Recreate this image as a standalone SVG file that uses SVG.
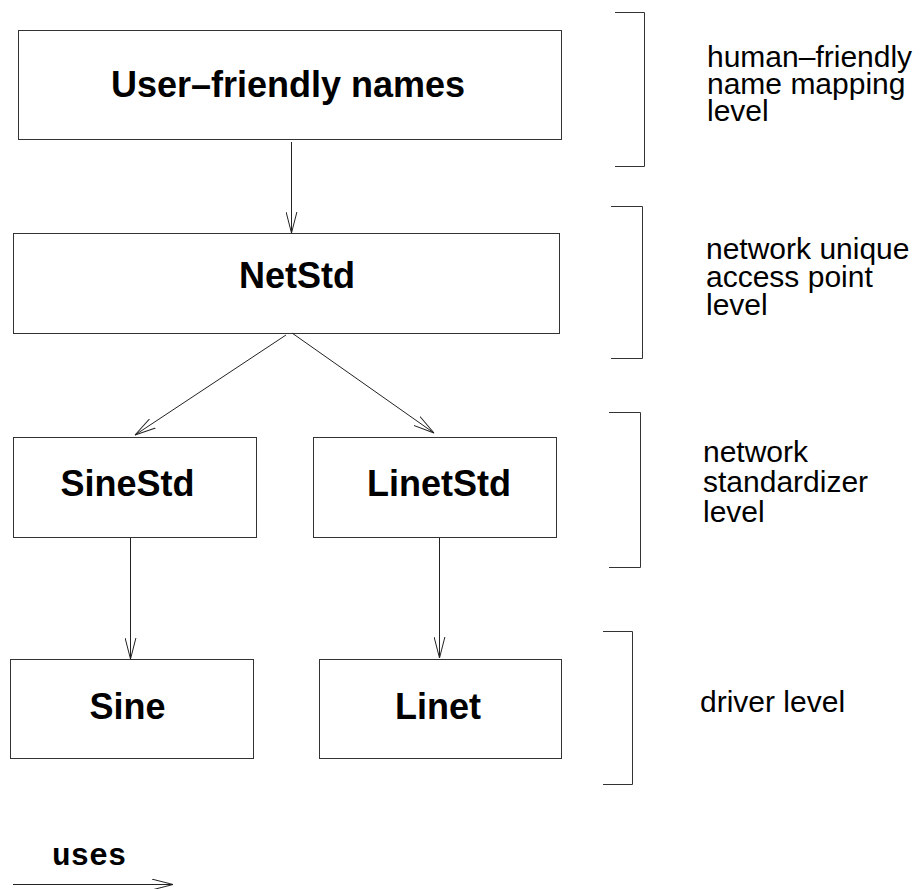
<svg xmlns="http://www.w3.org/2000/svg" width="923" height="889" viewBox="0 0 923 889">
  <style>
    .box { fill: #fff; stroke: #333; stroke-width: 1; }
    .name { font-family: "Liberation Sans", Arial, Helvetica, sans-serif; font-weight: bold; font-size: 36px; fill: #000; text-anchor: middle; }
    .lvl { font-family: "Liberation Sans", Arial, Helvetica, sans-serif; font-size: 30px; fill: #000; }
    .edge { stroke: #222; stroke-width: 1; fill: none; }
    .brk { stroke: #333; stroke-width: 1; fill: none; }
    .legend { font-family: "Nimbus Mono PS", "Courier New", Courier, "Liberation Mono", monospace; font-weight: bold; font-size: 31px; fill: #000; }
  </style>
  <defs>
    <!-- open V arrowhead used by every "uses" connector -->
    <marker id="vee" viewBox="0 0 22 12" refX="21" refY="6" markerWidth="22" markerHeight="12" markerUnits="userSpaceOnUse" orient="auto">
      <path d="M0,0.6 L21,6 L0,11.4" fill="none" stroke="#222" stroke-width="1"/>
    </marker>
  </defs>

  <rect width="923" height="889" fill="#fff"/>

  <!-- component boxes -->
  <g id="user-friendly-names">
    <rect class="box" x="18.5" y="30.5" width="543" height="109"/>
    <text class="name" x="288" y="97">User–friendly names</text>
  </g>
  <g id="netstd">
    <rect class="box" x="13.5" y="233.5" width="546" height="100"/>
    <text class="name" x="297" y="288">NetStd</text>
  </g>
  <g id="sinestd">
    <rect class="box" x="13.5" y="437.5" width="243" height="100"/>
    <text class="name" x="127.5" y="496">SineStd</text>
  </g>
  <g id="linetstd">
    <rect class="box" x="313.5" y="437.5" width="243" height="100"/>
    <text class="name" x="439" y="496">LinetStd</text>
  </g>
  <g id="sine">
    <rect class="box" x="10.5" y="659.5" width="243" height="99"/>
    <text class="name" x="127.5" y="719">Sine</text>
  </g>
  <g id="linet">
    <rect class="box" x="319.5" y="659.5" width="242" height="99"/>
    <text class="name" x="438" y="719">Linet</text>
  </g>

  <!-- "uses" connectors -->
  <g id="connectors">
    <line class="edge" x1="291.5" y1="142" x2="291.5" y2="233" marker-end="url(#vee)"/>
    <line class="edge" x1="286" y1="335" x2="135" y2="435" marker-end="url(#vee)"/>
    <line class="edge" x1="292" y1="333" x2="434" y2="433" marker-end="url(#vee)"/>
    <line class="edge" x1="130.5" y1="538" x2="130.5" y2="659" marker-end="url(#vee)"/>
    <line class="edge" x1="439.5" y1="538" x2="439.5" y2="658" marker-end="url(#vee)"/>
  </g>

  <!-- level brackets with their captions -->
  <g id="level-human-friendly">
    <path class="brk" d="M615,12.5 H644.5 V166.5 H615"/>
    <text class="lvl" x="707" y="67">human–friendly</text>
    <text class="lvl" x="707" y="94">name mapping</text>
    <text class="lvl" x="707" y="121">level</text>
  </g>
  <g id="level-network-unique">
    <path class="brk" d="M611,206.5 H642.5 V358.5 H611"/>
    <text class="lvl" x="706" y="259">network unique</text>
    <text class="lvl" x="706" y="287">access point</text>
    <text class="lvl" x="706" y="315">level</text>
  </g>
  <g id="level-network-standardizer">
    <path class="brk" d="M609,412.5 H640.5 V567.5 H609"/>
    <text class="lvl" x="703" y="462">network</text>
    <text class="lvl" x="703" y="492">standardizer</text>
    <text class="lvl" x="703" y="522">level</text>
  </g>
  <g id="level-driver">
    <path class="brk" d="M603,631.5 H632.5 V784.5 H603"/>
    <text class="lvl" x="700" y="712">driver level</text>
  </g>

  <!-- legend -->
  <g id="legend">
    <text class="legend" x="52" y="865">uses</text>
    <line class="edge" x1="13" y1="884.5" x2="173" y2="884.5" marker-end="url(#vee)"/>
  </g>
</svg>
